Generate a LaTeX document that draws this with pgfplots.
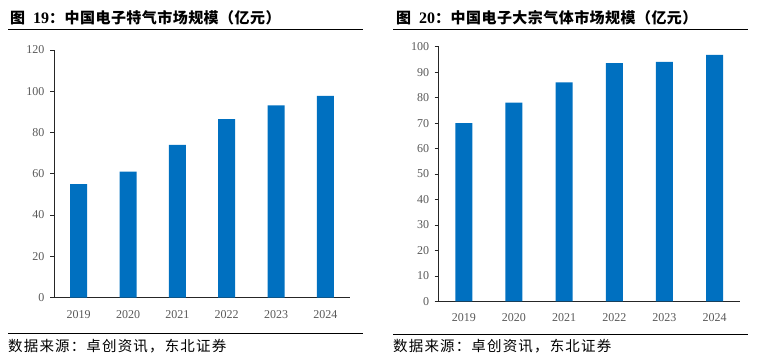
\documentclass[border=0pt]{standalone}
\usepackage{fontspec}
\setmainfont{Liberation Serif}
\newfontfamily\cjk{Noto Sans CJK SC}
\newfontfamily\cjkt{Noto Sans CJK SC}[LetterSpace=3]
\newfontfamily\cjks{Noto Sans CJK SC}[LetterSpace=8]
\usepackage{pgfplots}
\pgfplotsset{compat=1.18}
\definecolor{barblue}{RGB}{0,112,192}
\definecolor{ticktext}{RGB}{89,89,89}
\pgfplotsset{
  mybars/.style={
    scale only axis,
    axis x line*=bottom,
    axis y line*=left,
    axis line style={black!85, line width=0.9pt},
    ybar, bar width=17pt,
    xmin=-0.5, xmax=5.5,
    xtick=data,
    xticklabels={2019,2020,2021,2022,2023,2024},
    x tick style={draw=none},
    y tick style={black!85, line width=0.8pt},
    tick align=outside,
    major tick length=4pt,
    ymin=0,
    ticklabel style={font=\fontsize{12}{14}\selectfont, text=ticktext},
    /pgf/number format/assume math mode=true,
    xticklabel style={yshift=-5pt},
    yticklabel style={xshift=-2pt},
    enlargelimits=false,
    clip=false,
  }
}
\begin{document}
\begin{tikzpicture}
\path (0pt,0pt) rectangle (762pt,360pt);
% left chart
\node[anchor=west, inner sep=0] at (10pt,342pt) {\fontsize{15}{17}\selectfont{\cjkt\bfseries 图}\hspace{8pt}{\fontsize{16}{17}\selectfont\bfseries 19}{\cjkt\bfseries ：中国电子特气市场规模（亿元）}};
\draw[line width=1pt] (8pt,331pt) -- (363pt,331pt);
\begin{axis}[mybars, at={(54pt,62.5pt)}, anchor=south west, width=296pt, height=247.5pt,
  ymax=120, ytick={0,20,...,120}]
\addplot[fill=barblue, draw=none] coordinates {(0,55) (1,61) (2,74) (3,86.5) (4,93.2) (5,97.8)};
\end{axis}
\draw[line width=1pt] (8pt,27pt) -- (363pt,27pt);
\node[anchor=west, inner sep=0] at (8pt,14pt) {\fontsize{14.5}{17}\selectfont\cjks 数据来源：卓创资讯，东北证券};
% right chart
\node[anchor=west, inner sep=0] at (396pt,342pt) {\fontsize{15}{17}\selectfont{\cjkt\bfseries 图}\hspace{8pt}{\fontsize{16}{17}\selectfont\bfseries 20}{\cjkt\bfseries ：中国电子大宗气体市场规模（亿元）}};
\draw[line width=1pt] (393pt,331pt) -- (748pt,331pt);
\begin{axis}[mybars, at={(438.7pt,58.6pt)}, anchor=south west, width=301pt, height=254.7pt,
  ymax=100, ytick={0,10,...,100}]
\addplot[fill=barblue, draw=none] coordinates {(0,70) (1,78) (2,86) (3,93.6) (4,94) (5,96.8)};
\end{axis}
\draw[line width=1pt] (393pt,26pt) -- (748pt,26pt);
\node[anchor=west, inner sep=0] at (393pt,14pt) {\fontsize{14.5}{17}\selectfont\cjks 数据来源：卓创资讯，东北证券};
\end{tikzpicture}
\end{document}
